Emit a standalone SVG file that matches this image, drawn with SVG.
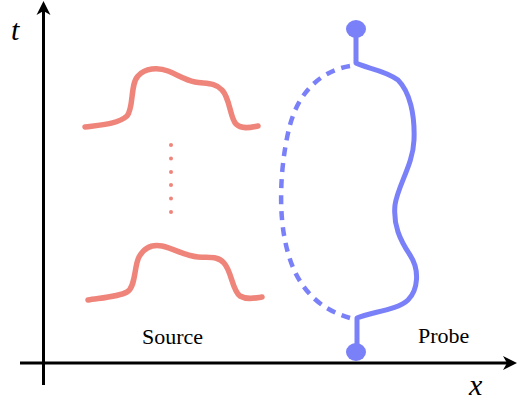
<svg xmlns="http://www.w3.org/2000/svg" width="526" height="407" viewBox="0 0 526 407">
<style>
.axis{stroke:#000;stroke-width:3;fill:none}
.head{fill:#000}
.src{stroke:#EF857A;stroke-width:5.5;fill:none;stroke-linecap:round;stroke-linejoin:round}
.dot{fill:#EF857A}
.probe{stroke:#7A80F8;stroke-width:5;fill:none;stroke-linecap:round;stroke-linejoin:round}
.dash{stroke:#7A80F8;stroke-width:4.5;fill:none;stroke-dasharray:9 7}
.blob{fill:#7A80F8}
.lbl{font-family:"Liberation Serif",serif;font-size:22px;fill:#000}
.var{font-family:"Liberation Serif",serif;font-style:italic;font-size:30px;fill:#000}
</style>
<g id="axes">
<line class="axis" x1="43.5" y1="385" x2="43.5" y2="10"/>
<polygon class="head" points="43.5,1 36.5,15 43.5,11 50.5,15"/>
<line class="axis" x1="20" y1="363" x2="508" y2="363"/>
<polygon class="head" points="517,363 503,356 507,363 503,370"/>
<text class="var" x="11" y="40">t</text>
<text class="var" x="469" y="395">x</text>
</g>
<g id="source">
<path class="src" d="M85,127 C100,125 118,124 127,116 C134,108 130,84 138,76 C145,68 158,67 168,71 C178,75 185,80 195,82 C205,84 215,82 222,90 C230,98 230,118 236,124 C242,130 252,127 258,126"/>
<path class="src" d="M88,300 C100,298 118,297 127,292 C136,287 134,266 139,257 C144,248 152,244 162,246 C175,249 185,256 198,257 C210,258 218,256 224,263 C232,272 232,290 240,296 C247,300 255,298 262,297"/>
<g id="dots">
<circle class="dot" cx="171" cy="145" r="2"/>
<circle class="dot" cx="171" cy="158.5" r="2"/>
<circle class="dot" cx="171" cy="172" r="2"/>
<circle class="dot" cx="171" cy="185" r="2"/>
<circle class="dot" cx="171" cy="198.5" r="2"/>
<circle class="dot" cx="171" cy="212" r="2"/>
</g>
<text class="lbl" x="142" y="344">Source</text>
</g>
<g id="probe">
<path class="dash" d="M350,66 C325,70 300,88 290,125 C282,155 278,200 284,235 C290,270 305,305 350,318"/>
<path class="probe" d="M356,30 L356,63 C365,68 385,70 398,80 C410,92 415,115 414,140 C413,165 398,185 395,205 C393,225 400,240 410,255 C420,270 418,290 408,300 C398,310 370,312 357,318 L357,352"/>
<ellipse class="blob" cx="356" cy="29" rx="10" ry="9"/>
<ellipse class="blob" cx="356" cy="352" rx="10" ry="9"/>
<text class="lbl" x="418" y="343">Probe</text>
</g>
</svg>
